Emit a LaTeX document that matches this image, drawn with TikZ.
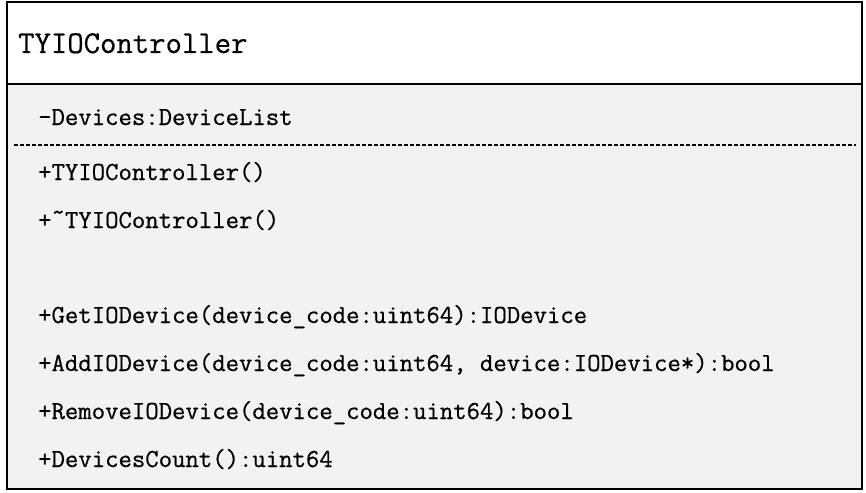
\documentclass[tikz,border=0pt]{standalone}
\usepackage{fontspec}
\newfontfamily\umlfont[FakeBold=0.6]{Latin Modern Mono}
\usepackage{tikz}

\tikzset{
    member/.style={anchor=base west, inner sep=0pt, font=\umlfont\fontsize{26}{28}\selectfont},
    classname/.style={anchor=base west, inner sep=0pt, font=\umlfont\fontsize{31.8}{33}\selectfont}
}

\begin{document}
\begin{tikzpicture}[x=1pt,y=-1pt]
\useasboundingbox (0,0) rectangle (866,492);

% class box
\fill [gray!10] (7,84) rectangle (862,489);
\draw [line width=1.4pt] (7,2) rectangle (862,489);
\draw [line width=1.4pt] (7,84) -- (862,84);
\draw [line width=1.2pt, dash pattern=on 4pt off 2pt] (14,145) -- (856,145);

\node [classname] (cls) at (18,53) {TYIOController};

\node [member] (devs) at (38,125) {-Devices:DeviceList};

\node [member] (ctor) at (38,180) {+TYIOController()};
\node [member] (dtor) at (38,228) {+\raisebox{0.3em}{\textasciitilde}TYIOController()};

\node [member] (get) at (38,323) {+GetIODevice(device\_code:uint64):IODevice};
\node [member] (add) at (38,371) {+AddIODevice(device\_code:uint64, device:IODevice*):bool};
\node [member] (rem) at (38,419) {+RemoveIODevice(device\_code:uint64):bool};
\node [member] (cnt) at (38,467) {+DevicesCount():uint64};

\end{tikzpicture}
\end{document}
